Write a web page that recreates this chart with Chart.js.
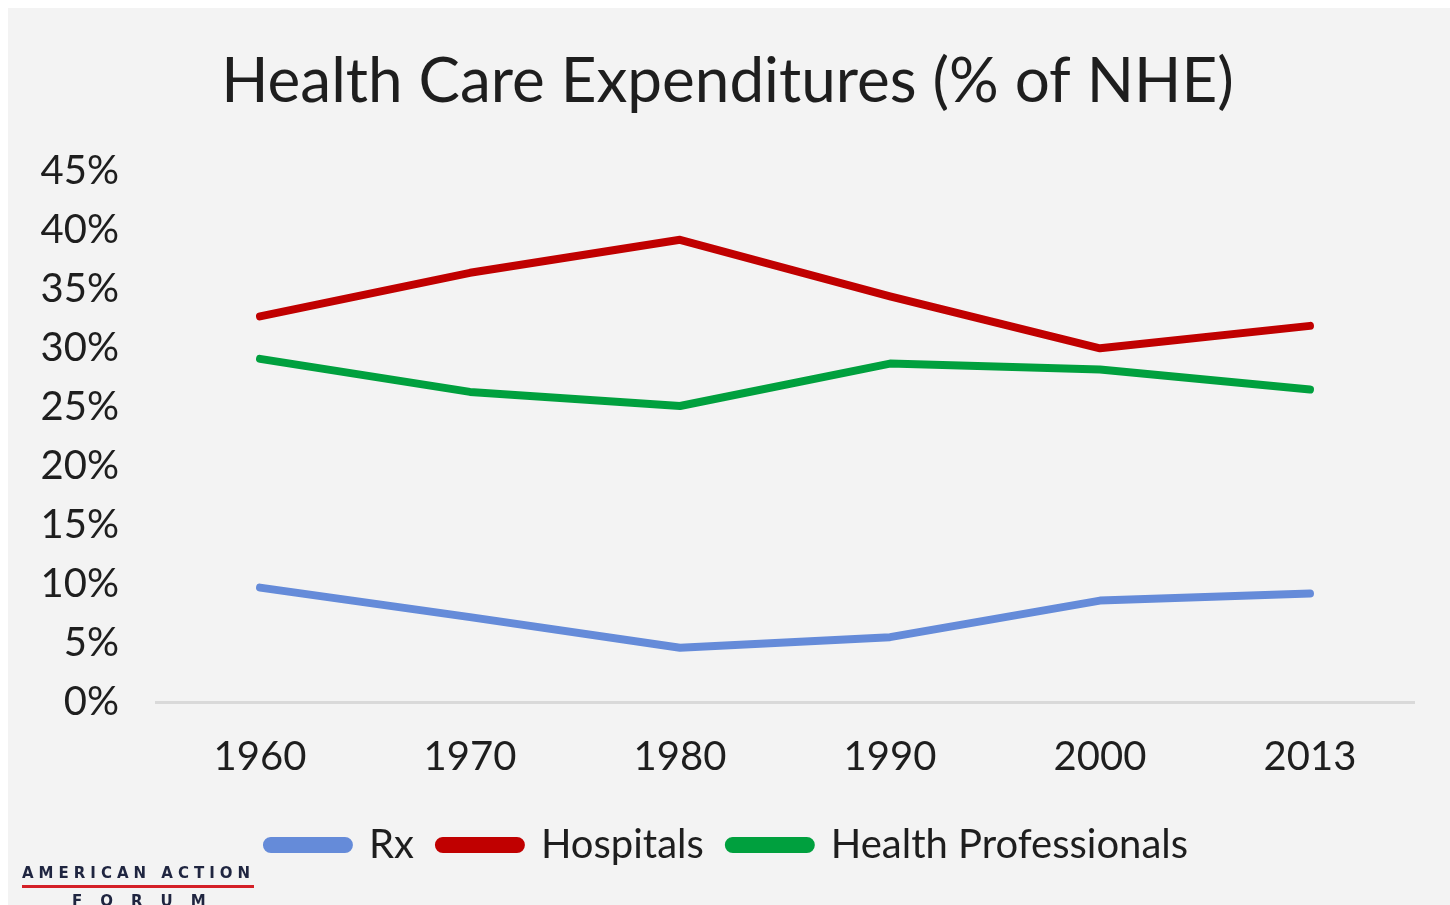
<!DOCTYPE html>
<html>
<head>
<meta charset="utf-8">
<script src="https://cdn.jsdelivr.net/npm/chart.js@4"></script>
<style>
    body { margin: 0; background: #ffffff; }
    #panel { position: absolute; left: 8px; top: 8px; width: 1442px; height: 897px; background: #f3f3f3; overflow: hidden; }
    #my-chart { position: absolute; left: 0; top: 0; }
    #logo { position: absolute; left: 14px; top: 856px; font-family: "DejaVu Sans", sans-serif; font-weight: bold; color: #1f2540; white-space: nowrap; }
    #logo .top { font-size: 15px; letter-spacing: 5px; border-bottom: 3px solid #d42027; padding-bottom: 3px; width: 232px; }
    #logo .bottom { font-size: 15px; letter-spacing: 18px; padding-left: 50px; margin-top: 4px; }
</style>
</head>
<body>
<div id="panel">
    <canvas id="my-chart" width="1442" height="897"></canvas>
    <div id="logo"><div class="top">AMERICAN ACTION</div><div class="bottom">FORUM</div></div>
</div>
<script>
const years = ["1960", "1970", "1980", "1990", "2000", "2013"];
const rx = [9.7, 7.2, 4.6, 5.5, 8.6, 9.2];
const hospitals = [32.7, 36.4, 39.2, 34.4, 30.0, 31.9];
const healthProfessionals = [29.1, 26.3, 25.1, 28.7, 28.2, 26.5];
const yTicks = [0, 5, 10, 15, 20, 25, 30, 35, 40, 45];

const fontName = "Lato, 'Open Sans', sans-serif";
const textColor = "#1e1e1e";

function makeDataset(label, values, color) {
    return {
        label: label,
        data: values,
        borderColor: color,
        backgroundColor: color,
        borderWidth: 8,
        pointRadius: 0,
        borderCapStyle: "round",
        borderJoinStyle: "round",
        tension: 0
    };
}

const ctx = document.getElementById("my-chart").getContext("2d");
const expendituresChart = new Chart(ctx, {
    type: "line",
    data: {
        labels: years,
        datasets: [
            makeDataset("Rx", rx, "#658bd9"),
            makeDataset("Hospitals", hospitals, "#c00000"),
            makeDataset("Health Professionals", healthProfessionals, "#00a03e")
        ]
    },
    options: {
        responsive: false,
        animation: false,
        layout: { padding: { left: 32, right: 35, top: 37, bottom: 30 } },
        plugins: {
            title: {
                display: true,
                text: "Health Care Expenditures (% of NHE)",
                color: textColor,
                font: { family: fontName, size: 62, weight: "normal" },
                padding: { top: 0, bottom: 52 }
            },
            legend: {
                position: "bottom",
                labels: {
                    color: textColor,
                    font: { family: fontName, size: 40 },
                    boxWidth: 82,
                    boxHeight: 8,
                    useBorderRadius: true,
                    borderRadius: 4,
                    padding: 25
                }
            },
            tooltip: { enabled: false }
        },
        scales: {
            x: {
                offset: true,
                grid: { display: false },
                border: { display: false },
                afterFit: function(scale) { scale.height = 98; },
                ticks: {
                    color: textColor,
                    font: { family: fontName, size: 40 },
                    padding: 23
                }
            },
            y: {
                min: 0,
                max: 45,
                afterBuildTicks: function(axis) {
                    axis.ticks = yTicks.map(function(v) { return { value: v }; });
                },
                afterFit: function(scale) { scale.width = 115; },
                border: { display: false },
                grid: {
                    drawTicks: false,
                    lineWidth: 3,
                    color: function(c) {
                        return c.tick && c.tick.value === 0 ? "#d9d9d9" : "rgba(0,0,0,0)";
                    }
                },
                ticks: {
                    color: textColor,
                    font: { family: fontName, size: 40 },
                    padding: 36,
                    callback: function(v) { return v + "%"; }
                }
            }
        }
    }
});
</script>
</body>
</html>
